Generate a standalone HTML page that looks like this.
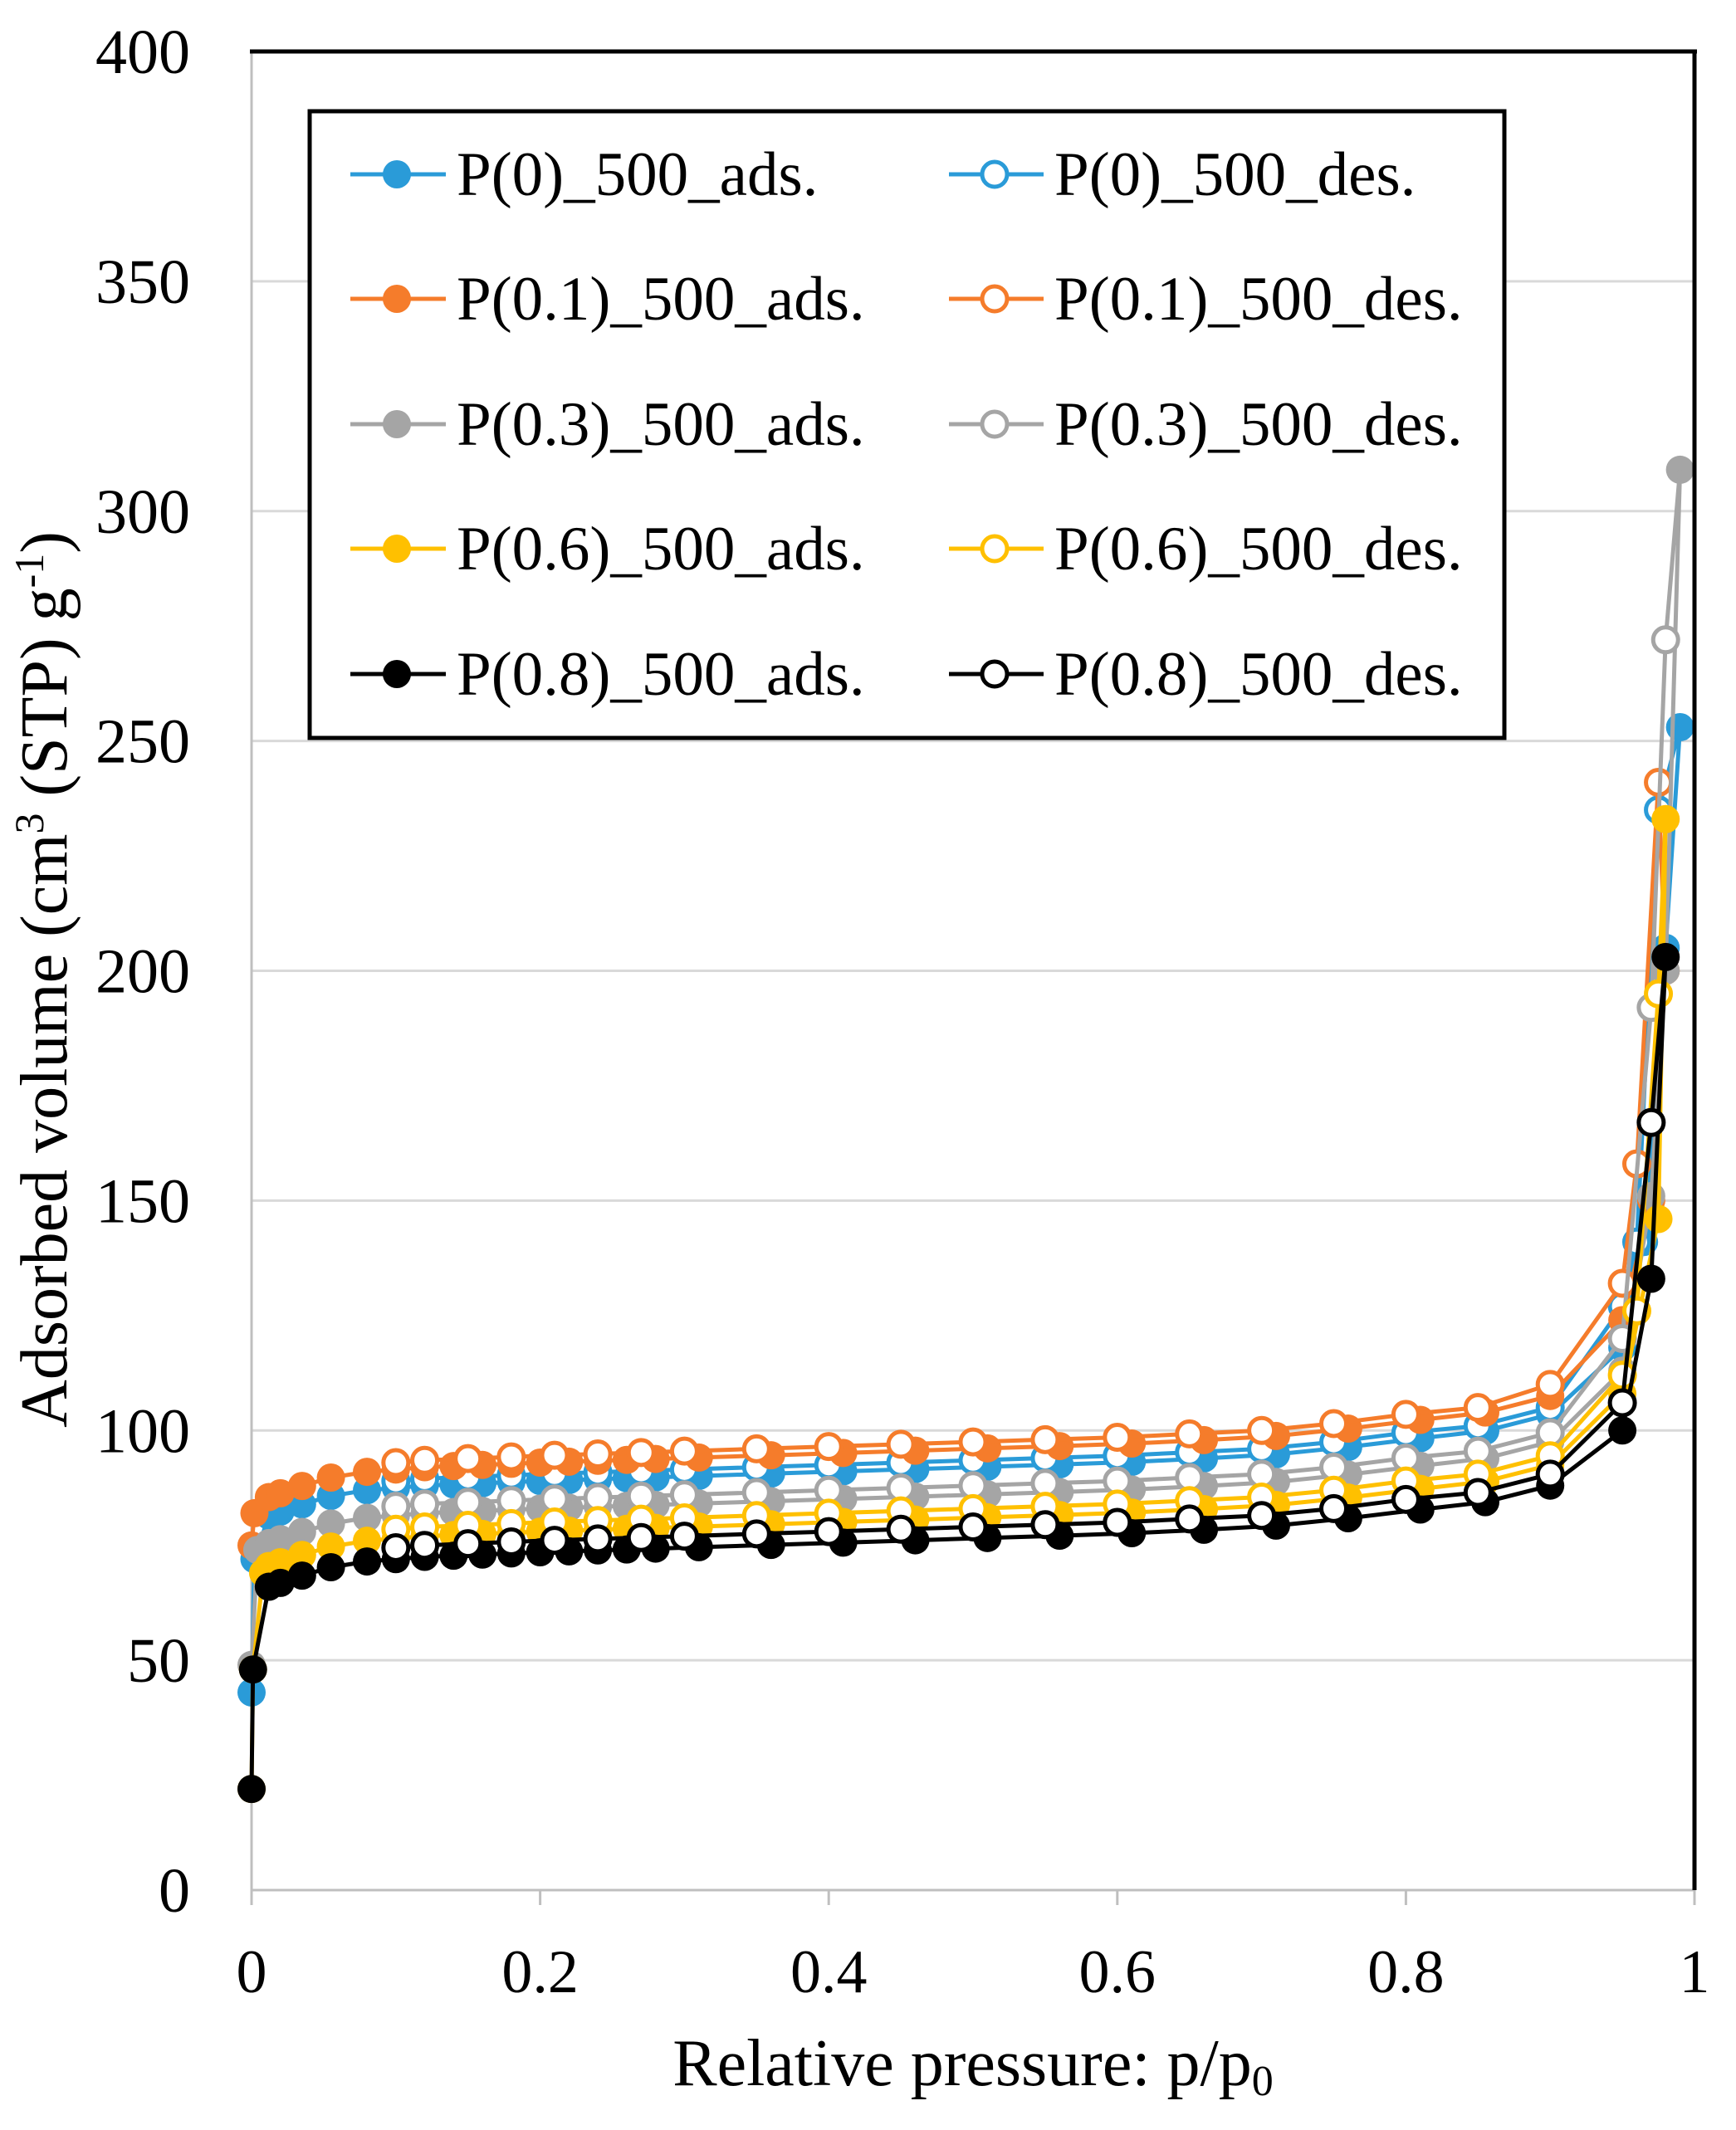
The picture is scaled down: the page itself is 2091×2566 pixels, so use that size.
<!DOCTYPE html>
<html><head><meta charset="utf-8"><style>
html,body{margin:0;padding:0;background:#fff;}
svg{display:block;}
text{font-family:"Liberation Serif",serif;fill:#000;}
</style></head><body>
<svg id="c" width="2091" height="2566" xmlns="http://www.w3.org/2000/svg">
<g id="grid"></g>
<g id="data"></g>
<g id="axes"></g>
<g id="leg"></g>
</svg>
<script>
const NS="http://www.w3.org/2000/svg";
const X0=303,X1=2041,Y0=2277,Y4=62;
const X=x=>X0+x*(X1-X0), Y=v=>Y0-v*(Y0-Y4)/400;
function el(p,t,a,txt){const e=document.createElementNS(NS,t);for(const k in a)e.setAttribute(k,a[k]);if(txt!==undefined)e.textContent=txt;document.getElementById(p).appendChild(e);return e;}
for(let v=50;v<400;v+=50) el('grid','line',{x1:X0,x2:X1,y1:Y(v),y2:Y(v),stroke:'#d9d9d9','stroke-width':3});
el('grid','line',{x1:X0,x2:X0,y1:Y4,y2:Y0+8,stroke:'#bfbfbf','stroke-width':3});
el('grid','line',{x1:X0,x2:X1,y1:Y0,y2:Y0,stroke:'#bfbfbf','stroke-width':3});
for(let i=0;i<=5;i++) el('grid','line',{x1:X(i*0.2),x2:X(i*0.2),y1:Y0,y2:Y0+18,stroke:'#bfbfbf','stroke-width':3});
el('axes','line',{x1:X0-2,x2:X1+3,y1:Y4,y2:Y4,stroke:'#000','stroke-width':5});
el('axes','line',{x1:X1,x2:X1,y1:Y4,y2:Y0,stroke:'#000','stroke-width':5});
for(let v=0;v<=400;v+=50) el('axes','text',{x:229,y:Y(v)+26,'text-anchor':'end','font-size':76},String(v));
['0','0.2','0.4','0.6','0.8','1'].forEach((t,i)=>el('axes','text',{x:X(i*0.2),y:2400,'text-anchor':'middle','font-size':74},t));
const xt=el('axes','text',{x:1172,y:2512,'text-anchor':'middle','font-size':80},'Relative pressure: p/p');
const s0=document.createElementNS(NS,'tspan');s0.setAttribute('font-size',52);s0.setAttribute('dy',12);s0.textContent='0';xt.appendChild(s0);
const yt=el('axes','text',{x:0,y:0,'text-anchor':'middle','font-size':80,transform:'translate(80,1180) rotate(-90)'},'Adsorbed volume (cm');
function ts(par,t,dy,fs){const s=document.createElementNS(NS,'tspan');if(fs)s.setAttribute('font-size',fs);s.setAttribute('dy',dy);s.textContent=t;par.appendChild(s);}
ts(yt,'3',-28,50);ts(yt,' (STP) g',28);ts(yt,'-1',-28,50);ts(yt,')',28);

const base=[[0.012,66],[0.05,70],[0.08,71.5],[0.12,72.5],[0.2,73.5],[0.3,74.5],[0.4,75.5],[0.5,76.5],[0.6,77.5],[0.7,79],[0.75,80.5],[0.8,82.5],[0.85,84],[0.9,88]];
function bv(x){for(let i=0;i<base.length-1;i++){const a=base[i],b=base[i+1];if(x<=b[0])return a[1]+(b[1]-a[1])*(x-a[0])/(b[0]-a[0]);}return base[base.length-1][1];}
const adsX=[0.012,0.02,0.035,0.055,0.08,0.1,0.12,0.14,0.16,0.18,0.2,0.22,0.24,0.26,0.28,0.31,0.36,0.41,0.46,0.51,0.56,0.61,0.66,0.71,0.76,0.81,0.855,0.9];
const desX=[0.9,0.85,0.8,0.75,0.7,0.65,0.6,0.55,0.5,0.45,0.4,0.35,0.3,0.27,0.24,0.21,0.18,0.15,0.12,0.1];
const S=[
 {c:'#2a9bd8',d:15.5,st:[[0,43],[0.002,72]],at:[[0.95,118],[0.965,141],[0.98,205],[0.99,253]],dt:[[0.975,235],[0.96,141],[0.95,127]],dd:1.5,name:'P(0)'},
 {c:'#f57c2b',d:19.5,st:[[0,75],[0.002,82]],at:[[0.95,124],[0.97,150],[0.98,200]],dt:[[0.975,241],[0.96,158],[0.95,132],[0.9,110]],dd:1.5,name:'P(0.1)'},
 {c:'#a5a5a5',d:9.5,st:[[0,49],[0.004,74]],at:[[0.95,113],[0.97,151],[0.98,200],[0.99,309]],dt:[[0.98,272],[0.97,192],[0.95,120]],dd:2,name:'P(0.3)'},
 {c:'#ffc000',d:4.5,st:[[0,22],[0.001,48],[0.008,69]],at:[[0.95,108],[0.975,146],[0.98,233]],dt:[[0.975,195],[0.96,126],[0.95,112]],dd:2,name:'P(0.6)'},
 {c:'#000000',d:0,st:[[0,22],[0.001,48]],at:[[0.95,100],[0.97,133],[0.98,203]],dt:[[0.97,167],[0.95,106]],dd:2.5,name:'P(0.8)'}
];
const R=17;
S.forEach(s=>{
 let ads=s.st.concat(adsX.map(x=>[x,bv(x)+s.d]),s.at);
 let last=ads[ads.length-1];
 let des=[last].concat(s.dt, desX.filter(x=>!s.dt.some(p=>Math.abs(p[0]-x)<1e-6)).map(x=>[x,bv(x)+s.d+s.dd]));
 des.sort((a,b)=>b[0]-a[0]);
 const pts=a=>a.map(p=>X(p[0]).toFixed(1)+','+Y(p[1]).toFixed(1)).join(' ');
 el('data','polyline',{points:pts(ads),fill:'none',stroke:s.c,'stroke-width':5,'stroke-linejoin':'round'});
 ads.forEach(p=>el('data','circle',{cx:X(p[0]),cy:Y(p[1]),r:R,fill:s.c}));
 el('data','polyline',{points:pts(des),fill:'none',stroke:s.c,'stroke-width':5,'stroke-linejoin':'round'});
 des.slice(1).forEach(p=>el('data','circle',{cx:X(p[0]),cy:Y(p[1]),r:R-2,fill:'#fff',stroke:s.c,'stroke-width':5}));
});
el('leg','rect',{x:373,y:134,width:1439,height:755,fill:'#fff',stroke:'#000','stroke-width':5});
const rows=[210,360,511,661,812];
S.forEach((s,i)=>{
 const y=rows[i];
 el('leg','line',{x1:422,x2:537,y1:y,y2:y,stroke:s.c,'stroke-width':5});
 el('leg','circle',{cx:478,cy:y,r:17,fill:s.c});
 el('leg','text',{x:550,y:y+25,'font-size':75},s.name+'_500_ads.');
 el('leg','line',{x1:1143,x2:1257,y1:y,y2:y,stroke:s.c,'stroke-width':5});
 el('leg','circle',{cx:1198,cy:y,r:15,fill:'#fff',stroke:s.c,'stroke-width':5});
 el('leg','text',{x:1270,y:y+25,'font-size':75},s.name+'_500_des.');
});
</script>
</body></html>
